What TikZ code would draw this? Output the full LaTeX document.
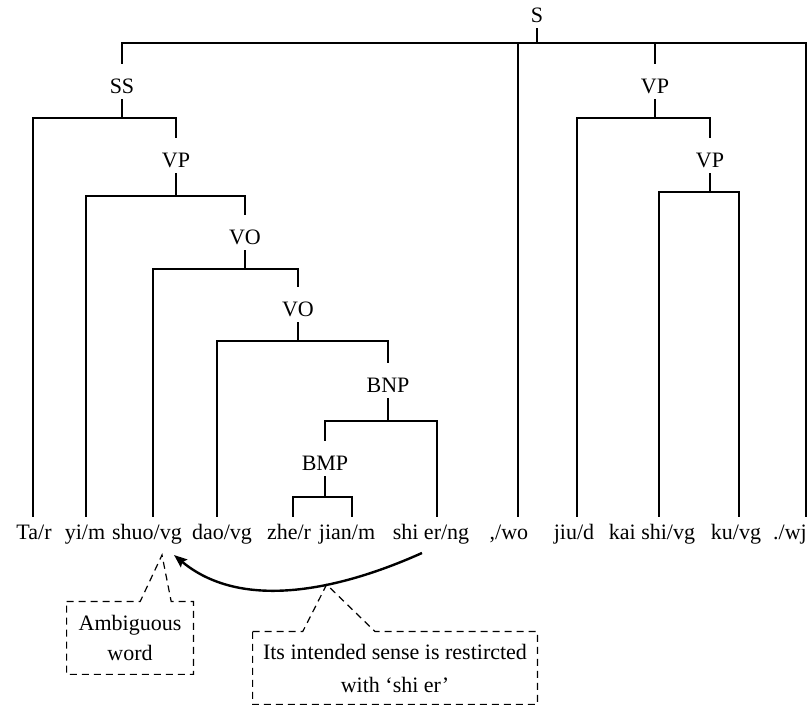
\documentclass[tikz,border=0pt]{standalone}
\usepackage{fontspec}
\setmainfont{Liberation Serif}
\usetikzlibrary{arrows.meta,calc,positioning}

\begin{document}
\begin{tikzpicture}[x=0.5pt,y=-0.5pt,
	cat/.style={inner sep=0pt,text height=14.65pt,text depth=2.85pt,anchor=base,font=\fontsize{11}{13}\selectfont},
	word/.style={inner sep=0pt,anchor=base,font=\fontsize{11}{13}\selectfont},
	branch/.style={line width=0.7pt},
	notetext/.style={inner sep=0pt,align=center},
	notebox/.style={dash pattern=on 3.5pt off 2.5pt,line width=0.6pt},
	hint/.style={->,>={Stealth[length=6.5pt,width=5pt,inset=1pt]},line width=1.2pt}]
	\useasboundingbox (0,0) rectangle (811,706);
	% the sentence
	\node[word] (Ta) at (34,540) {Ta/r};
	\node[word] (yi) at (85,540) {yi/m};
	\node[word] (shuo) at (147,540) {shuo/vg};
	\node[word] (dao) at (222,540) {dao/vg};
	\node[word] (zhe) at (289,540) {zhe/r};
	\node[word] (jian) at (347,540) {jian/m};
	\node[word] (shier) at (431,540) {shi er/ng};
	\node[word] (wo) at (509,540) {,/wo};
	\node[word] (jiu) at (574,540) {jiu/d};
	\node[word] (kaishi) at (652,540) {kai shi/vg};
	\node[word] (ku) at (736,540) {ku/vg};
	\node[word] (wj) at (790,540) {./wj};
	\foreach \w/\x in {Ta/33,yi/86,shuo/153,dao/217,zhe/293,jian/352,shier/437,wo/518,jiu/577,kaishi/659,ku/739,wj/806}
		\coordinate (\w-top) at (\x,517);
	% categories
	\node[cat] (S) at (537,22.3) {S};
	\node[cat] (SS) at (122,93.3) {SS};
	\node[cat] (VPa) at (176,167.3) {VP};
	\node[cat] (VOa) at (245,244.3) {VO};
	\node[cat] (VOb) at (298,316.3) {VO};
	\node[cat] (BNP) at (388,392.3) {BNP};
	\node[cat] (BMP) at (325,470.3) {BMP};
	\node[cat] (VPb) at (655,93.3) {VP};
	\node[cat] (VPc) at (710,167.3) {VP};
	% S
	\coordinate (S-bar) at (537,43);
	\draw[branch] (S.south) -- (S-bar);
	\draw[branch] (SS.north) |- (S-bar) -| (wj-top);
	\draw[branch] (wo-top) -- (wo-top |- S-bar);
	\draw[branch] (VPb.north) -- (VPb.north |- S-bar);
	% SS
	\coordinate (SS-bar) at (122,118);
	\draw[branch] (SS.south) -- (SS-bar);
	\draw[branch] (Ta-top) |- (SS-bar) -| (VPa.north);
	% VP
	\coordinate (VPa-bar) at (176,196);
	\draw[branch] (VPa.south) -- (VPa-bar);
	\draw[branch] (yi-top) |- (VPa-bar) -| (VOa.north);
	% VO
	\coordinate (VOa-bar) at (245,269);
	\draw[branch] (VOa.south) -- (VOa-bar);
	\draw[branch] (shuo-top) |- (VOa-bar) -| (VOb.north);
	% VO
	\coordinate (VOb-bar) at (298,341);
	\draw[branch] (VOb.south) -- (VOb-bar);
	\draw[branch] (dao-top) |- (VOb-bar) -| (BNP.north);
	% BNP
	\coordinate (BNP-bar) at (388,421);
	\draw[branch] (BNP.south) -- (BNP-bar);
	\draw[branch] (BMP.north) |- (BNP-bar) -| (shier-top);
	% BMP
	\coordinate (BMP-bar) at (325,497);
	\draw[branch] (BMP.south) -- (BMP-bar);
	\draw[branch] (zhe-top) |- (BMP-bar) -| (jian-top);
	% right VP
	\coordinate (VPb-bar) at (655,118);
	\draw[branch] (VPb.south) -- (VPb-bar);
	\draw[branch] (jiu-top) |- (VPb-bar) -| (VPc.north);
	\coordinate (VPc-bar) at (710,192);
	\draw[branch] (VPc.south) -- (VPc-bar);
	\draw[branch] (kaishi-top) |- (VPc-bar) -| (ku-top);
	% arrow from shi er back to shuo
	\coordinate (from) at (422,553);
	\coordinate (to) at (174,555);
	\draw[hint] (from) .. controls (335,592) and (240,610) .. coordinate[pos=0.36] (mid) (to);
	% notes
	\node[notetext,font=\fontsize{11}{15}\selectfont,minimum width=63pt,minimum height=36pt] (amb) at (130,638) {Ambiguous\\word};
	\coordinate (amb-tip) at (162,555);
	\draw[notebox] (amb.north west) -- ($(amb.north west)!.58!(amb.north east)$) -- (amb-tip) -- ($(amb.north west)!.825!(amb.north east)$) -- (amb.north east) -- (amb.south east) -- (amb.south west) -- cycle;
	\node[notetext,font=\fontsize{11}{16.5}\selectfont,minimum width=142pt,minimum height=36pt] (its) at (395,668) {Its intended sense is restircted\\with ‘shi er’};
	\draw[notebox] (its.north west) -- ($(its.north west)!.176!(its.north east)$) -- (mid) -- ($(its.north west)!.43!(its.north east)$) -- (its.north east) -- (its.south east) -- (its.south west) -- cycle;
\end{tikzpicture}
\end{document}
